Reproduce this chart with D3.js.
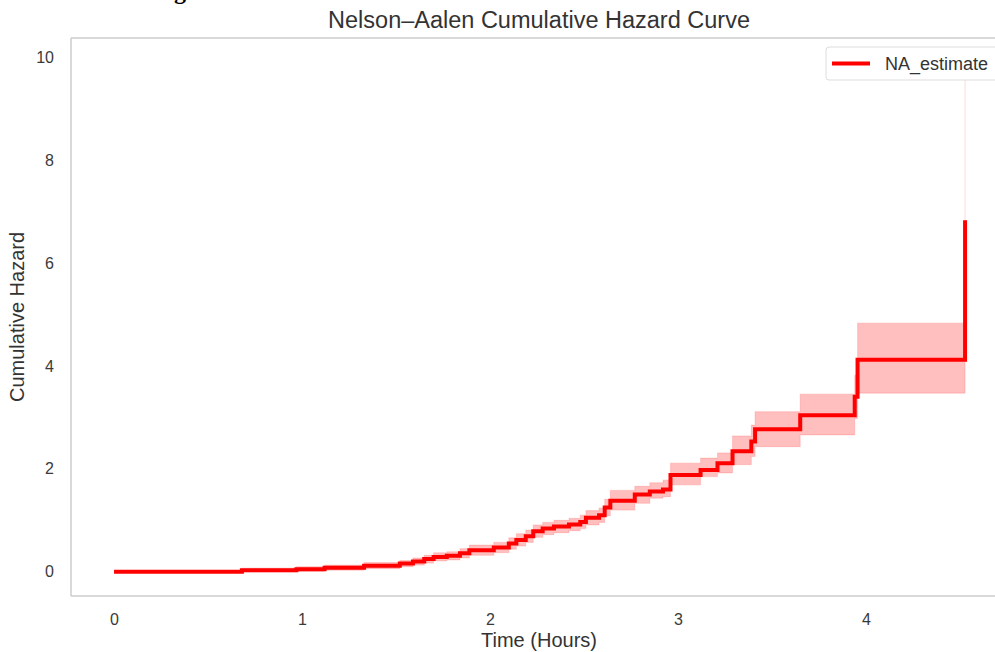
<!DOCTYPE html>
<html>
<head>
<meta charset="utf-8">
<script src="https://cdn.jsdelivr.net/npm/d3@7/dist/d3.min.js"></script>
<style>
  html, body { margin: 0; padding: 0; background: #fff; }
  svg { display: block; }
</style>
</head>
<body>
<svg id="chart" width="995" height="652"></svg>
<script>
// ---- data ----
const times   = [0, 0.68, 0.97, 1.12, 1.33, 1.52, 1.59, 1.65, 1.70, 1.77, 1.84, 1.89, 2.02, 2.10, 2.14, 2.19, 2.23, 2.28, 2.34, 2.42, 2.48, 2.51, 2.58, 2.61, 2.64, 2.77, 2.85, 2.92, 2.96, 3.12, 3.21, 3.29, 3.39, 3.41, 3.65, 3.94, 3.955, 4.527];
const hazard  = [0, 0.03, 0.05, 0.08, 0.12, 0.16, 0.20, 0.25, 0.29, 0.31, 0.36, 0.42, 0.47, 0.55, 0.62, 0.69, 0.79, 0.84, 0.88, 0.92, 0.97, 1.05, 1.10, 1.25, 1.38, 1.50, 1.56, 1.60, 1.88, 1.98, 2.11, 2.34, 2.53, 2.77, 3.04, 3.40, 4.12, 6.83];
const lowerCI = [0, 0.00, 0.01, 0.03, 0.06, 0.10, 0.13, 0.17, 0.21, 0.23, 0.27, 0.32, 0.37, 0.44, 0.50, 0.57, 0.67, 0.72, 0.76, 0.80, 0.84, 0.91, 0.96, 1.09, 1.20, 1.33, 1.43, 1.46, 1.69, 1.85, 1.92, 2.08, 2.24, 2.43, 2.66, 2.98, 3.47, 5.20];
const upperCI = [0, 0.07, 0.10, 0.13, 0.18, 0.22, 0.27, 0.32, 0.37, 0.39, 0.45, 0.52, 0.57, 0.66, 0.74, 0.81, 0.91, 0.96, 1.00, 1.04, 1.10, 1.19, 1.24, 1.41, 1.58, 1.66, 1.73, 1.78, 2.11, 2.21, 2.31, 2.64, 2.85, 3.11, 3.45, 3.82, 4.83, 9.86];
const xTicks = [0, 1, 2, 3, 4];
const yTicks = [0, 2, 4, 6, 8, 10];
const titleText = "Nelson\u2013Aalen Cumulative Hazard Curve";
const xLabel = "Time (Hours)";
const yLabel = "Cumulative Hazard";
const seriesName = "NA_estimate";

const rows = times.map((t, i) => ({ t, h: hazard[i], lo: lowerCI[i], hi: upperCI[i] }));

const svg = d3.select("#chart");
const frame = { left: 71, right: 1007, top: 38, bottom: 596 };

const x = d3.scaleLinear().domain([-0.229, 4.75]).range([frame.left, frame.right]);
const y = d3.scaleLinear().domain([-0.47, 10.37]).range([frame.bottom, frame.top]);

const font = "'Liberation Sans', Arial, sans-serif";

// partially cropped heading above the figure (cut off in the reference too)
svg.append("text")
  .attr("x", 174).attr("y", -1)
  .attr("font-family", "'Liberation Serif', 'DejaVu Serif', serif")
  .attr("font-weight", "bold")
  .attr("font-size", 24)
  .attr("fill", "#000")
  .text("g");

// confidence band
const area = d3.area()
  .curve(d3.curveStepAfter)
  .x(d => x(d.t))
  .y0(d => y(d.lo))
  .y1(d => y(d.hi));

svg.append("path")
  .datum(rows)
  .attr("d", area)
  .attr("fill", "red")
  .attr("fill-opacity", 0.25)
  .attr("stroke", "red")
  .attr("stroke-opacity", 0.12)
  .attr("stroke-width", 1.2);

// estimate line
const line = d3.line()
  .curve(d3.curveStepAfter)
  .x(d => x(d.t))
  .y(d => y(d.h));

svg.append("path")
  .datum(rows)
  .attr("d", line)
  .attr("fill", "none")
  .attr("stroke", "red")
  .attr("stroke-width", 4);

// frame (spines)
const spine = "#cccccc";
svg.append("line").attr("x1", frame.left).attr("x2", frame.left).attr("y1", frame.top).attr("y2", frame.bottom)
  .attr("stroke", spine).attr("stroke-width", 1.5);
svg.append("line").attr("x1", frame.left).attr("x2", frame.right).attr("y1", frame.top).attr("y2", frame.top)
  .attr("stroke", spine).attr("stroke-width", 1.5);
svg.append("line").attr("x1", frame.left).attr("x2", frame.right).attr("y1", frame.bottom).attr("y2", frame.bottom)
  .attr("stroke", spine).attr("stroke-width", 1.5);

// axes
const xAxis = svg.append("g")
  .attr("transform", `translate(0,${frame.bottom})`)
  .call(d3.axisBottom(x).tickValues(xTicks).tickSize(0).tickPadding(18).tickFormat(d3.format("d")));
const yAxis = svg.append("g")
  .attr("transform", `translate(${frame.left},0)`)
  .call(d3.axisLeft(y).tickValues(yTicks).tickSize(0).tickPadding(17).tickFormat(d3.format("d")));
[xAxis, yAxis].forEach(g => {
  g.select(".domain").remove();
  g.selectAll("text").attr("font-family", font).attr("font-size", 16).attr("fill", "#3a3a3a");
});

// title and axis labels
svg.append("text")
  .attr("x", (frame.left + frame.right) / 2).attr("y", 28)
  .attr("text-anchor", "middle")
  .attr("font-family", font).attr("font-size", 23.5).attr("fill", "#333")
  .text(titleText);

svg.append("text")
  .attr("x", (frame.left + frame.right) / 2).attr("y", 647)
  .attr("text-anchor", "middle")
  .attr("font-family", font).attr("font-size", 20).attr("fill", "#333")
  .text(xLabel);

svg.append("text")
  .attr("transform", `translate(24,${(frame.top + frame.bottom) / 2}) rotate(-90)`)
  .attr("text-anchor", "middle")
  .attr("font-family", font).attr("font-size", 20).attr("fill", "#333")
  .text(yLabel);

// legend
const lg = svg.append("g").attr("transform", "translate(826,47)");
lg.append("rect")
  .attr("x", 0).attr("y", 0).attr("width", 174).attr("height", 33)
  .attr("rx", 3).attr("ry", 3)
  .attr("fill", "#fff").attr("stroke", "#dddddd").attr("stroke-width", 1);
lg.append("line")
  .attr("x1", 6).attr("x2", 44).attr("y1", 16.5).attr("y2", 16.5)
  .attr("stroke", "red").attr("stroke-width", 4);
lg.append("text")
  .attr("x", 59).attr("y", 23)
  .attr("font-family", font).attr("font-size", 18).attr("fill", "#333")
  .text(seriesName);
</script>
</body>
</html>
